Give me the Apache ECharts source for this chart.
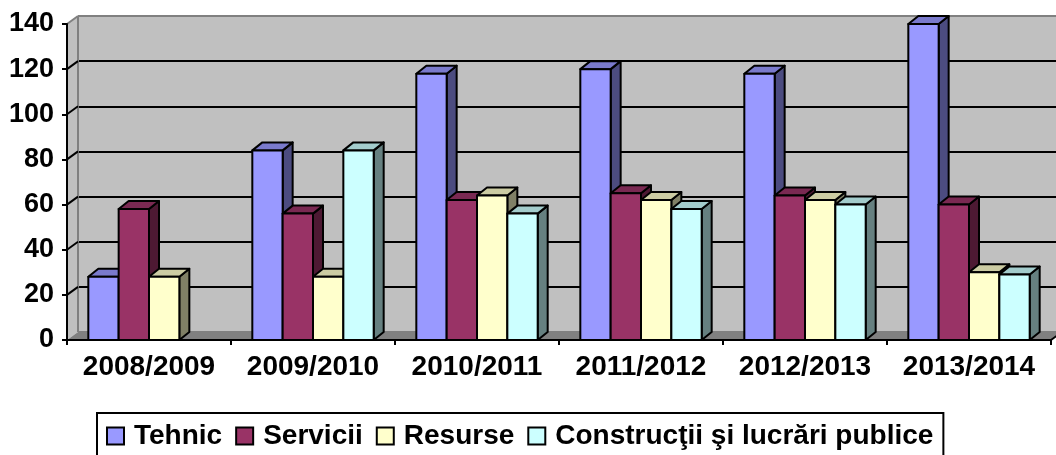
<!DOCTYPE html>
<html>
<head>
<meta charset="utf-8">
<script src="https://cdn.jsdelivr.net/npm/echarts@6/dist/echarts.min.js"></script>
<style>
  html, body { margin: 0; padding: 0; background: #fff; }
  #chart { width: 1056px; height: 455px; }
</style>
</head>
<body>
<div id="chart"></div>
<script>
// values
const categories = ['2008/2009', '2009/2010', '2010/2011', '2011/2012', '2012/2013', '2013/2014'];
const tehnic = [28, 84, 118, 120, 118, 140];
const servicii = [58, 56, 62, 65, 64, 60];
const resurse = [28, 28, 64, 62, 62, 30];
const constructii = [null, 84, 56, 58, 60, 29];
const seriesNames = ['Tehnic', 'Servicii', 'Resurse', 'Construcţii şi lucrări publice'];

// front / top / side shades (Excel 3D style)
const palette = [
  { front: '#9999ff', top: '#7a7acc', side: '#4c4c80' },
  { front: '#993366', top: '#7a2952', side: '#4d1933' },
  { front: '#ffffcc', top: '#cccca3', side: '#808066' },
  { front: '#ccffff', top: '#a3cccc', side: '#668080' },
];

const DEPTH_X = 10;
const DEPTH_Y = 8;
const WALL_X = 11;
const WALL_Y = 8;
const font = "'Liberation Sans', Arial, sans-serif";

const chart = echarts.init(document.getElementById('chart'), null, { renderer: 'canvas' });

const barRenderer = (slot, shade) => (params, api) => {
  const v = api.value(1);
  if (v == null || isNaN(v)) return;
  const base = api.coord([api.value(0), 0]);
  const tip = api.coord([api.value(0), v]);
  const band = api.size([1, 0])[0];
  const w = band * 0.185;
  const x0 = base[0] - 2 * w + slot * w;
  const x1 = x0 + w;
  const yb = base[1];
  const yt = tip[1];
  const stroke = { stroke: '#000', lineWidth: 2, lineJoin: 'round' };
  return {
    type: 'group',
    children: [
      {
        type: 'polygon',
        shape: { points: [[x1, yt], [x1 + DEPTH_X, yt - DEPTH_Y], [x1 + DEPTH_X, yb - DEPTH_Y], [x1, yb]] },
        style: Object.assign({ fill: shade.side }, stroke),
      },
      {
        type: 'polygon',
        shape: { points: [[x0, yt], [x0 + DEPTH_X, yt - DEPTH_Y], [x1 + DEPTH_X, yt - DEPTH_Y], [x1, yt]] },
        style: Object.assign({ fill: shade.top }, stroke),
      },
      {
        type: 'rect',
        shape: { x: x0, y: yt, width: w, height: yb - yt },
        style: Object.assign({ fill: shade.front }, stroke),
      },
    ],
  };
};

// side wall + floor, drawn from the front grid's coordinate system
const wallRenderer = (params, api) => {
  const cs = params.coordSys;
  const left = cs.x;
  const right = cs.x + cs.width;
  const top = cs.y;
  const bottom = cs.y + cs.height;
  const children = [
    {
      type: 'polygon',
      shape: { points: [[left, top], [left + WALL_X, top - WALL_Y], [left + WALL_X, bottom - WALL_Y], [left, bottom]] },
      style: { fill: '#c0c0c0' },
    },
    {
      type: 'polygon',
      shape: { points: [[left, bottom], [left + WALL_X, bottom - WALL_Y], [right + WALL_X, bottom - WALL_Y], [right, bottom]] },
      style: { fill: '#808080' },
    },
    {
      type: 'line',
      shape: { x1: left + WALL_X, y1: top - WALL_Y, x2: left + WALL_X, y2: bottom - WALL_Y },
      style: { stroke: '#808080', lineWidth: 2 },
    },
  ];
  for (let t = 20; t <= 140; t += 20) {
    const y = api.coord([0, t])[1];
    children.push({
      type: 'line',
      shape: { x1: left, y1: y, x2: left + WALL_X, y2: y - WALL_Y },
      style: { stroke: t === 140 ? '#808080' : '#000', lineWidth: 2 },
    });
  }
  children.push({
    type: 'line',
    shape: { x1: right, y1: bottom, x2: right + WALL_X, y2: bottom - WALL_Y },
    style: { stroke: '#000', lineWidth: 2 },
  });
  return { type: 'group', children };
};

const seriesData = [tehnic, servicii, resurse, constructii];

const option = {
  animation: false,
  backgroundColor: '#ffffff',
  grid: [
    { left: 67, top: 24, right: 5, bottom: 115, show: false },
    {
      left: 67 + WALL_X, top: 24 - WALL_Y, right: 5 - WALL_X, bottom: 115 + WALL_Y,
      show: true, backgroundColor: '#c0c0c0', borderWidth: 0,
    },
  ],
  legend: {
    data: seriesNames,
    left: 97,
    top: 413,
    icon: 'rect',
    itemWidth: 17,
    itemHeight: 17,
    itemGap: 13,
    padding: [9, 10, 14, 9],
    borderColor: '#000',
    borderWidth: 2,
    borderRadius: 0,
    itemStyle: { borderColor: '#000', borderWidth: 2 },
    textStyle: { color: '#000', fontSize: 28, fontWeight: 'bold', fontFamily: font, padding: [0, 0, 0, 5] },
  },
  xAxis: [
    {
      gridIndex: 0,
      type: 'category',
      data: categories,
      axisLine: { lineStyle: { color: '#000', width: 2 } },
      axisTick: { show: true, length: 5, lineStyle: { color: '#000', width: 2 } },
      axisLabel: { color: '#000', fontSize: 28, fontWeight: 'bold', fontFamily: font, margin: 13, interval: 0 },
      splitLine: { show: false },
      z: 5,
    },
    { gridIndex: 1, type: 'category', data: categories, show: false },
  ],
  yAxis: [
    {
      gridIndex: 0,
      type: 'value',
      min: 0,
      max: 140,
      interval: 20,
      axisLine: { show: true, lineStyle: { color: '#000', width: 2 } },
      axisTick: { show: true, length: 5, lineStyle: { color: '#000', width: 2 } },
      axisLabel: { color: '#000', fontSize: 27, fontWeight: 'bold', fontFamily: font, margin: 13 },
      splitLine: { show: false },
      z: 5,
    },
    {
      gridIndex: 1,
      type: 'value',
      min: 0,
      max: 140,
      interval: 20,
      axisLine: { show: false },
      axisTick: { show: false },
      axisLabel: { show: false },
      splitLine: {
        show: true,
        lineStyle: {
          color: ['#808080', '#000', '#000', '#000', '#000', '#000', '#000', '#808080'],
          width: 2,
        },
      },
    },
  ],
  series: [
    {
      name: 'walls',
      type: 'custom',
      xAxisIndex: 0,
      yAxisIndex: 0,
      renderItem: wallRenderer,
      data: [[0, 0]],
      silent: true,
      z: 1,
    },
  ].concat(seriesData.map((values, s) => ({
    name: seriesNames[s],
    type: 'custom',
    xAxisIndex: 0,
    yAxisIndex: 0,
    renderItem: barRenderer(s, palette[s]),
    itemStyle: { color: palette[s].front, borderColor: '#000', borderWidth: 2 },
    encode: { x: 0, y: 1 },
    data: values.map((v, i) => [i, v == null ? NaN : v]),
    z: 2,
  }))),
};

chart.setOption(option);
</script>
</body>
</html>
